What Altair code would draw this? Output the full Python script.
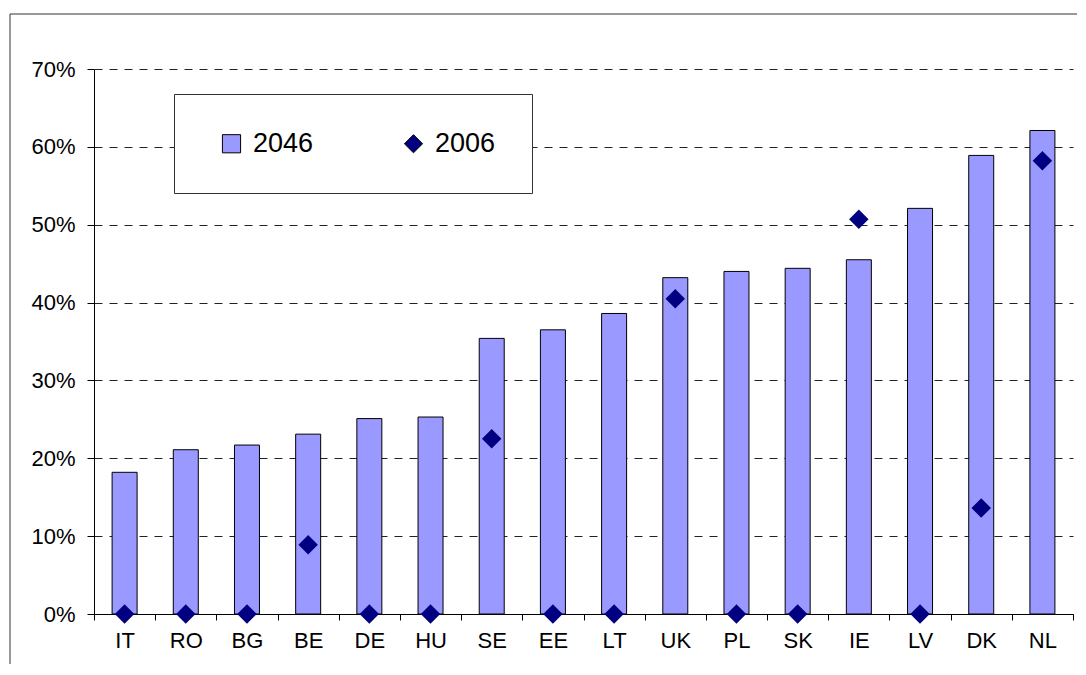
import altair as alt
import pandas as pd

countries = ["IT", "RO", "BG", "BE", "DE", "HU", "SE", "EE", "LT", "UK", "PL", "SK", "IE", "LV", "DK", "NL"]
share_2046 = [18.2, 21.1, 21.7, 23.1, 25.1, 25.3, 35.4, 36.5, 38.6, 43.2, 44.0, 44.4, 45.5, 52.1, 58.9, 62.1]
share_2006 = [0, 0, 0, 8.9, 0, 0, 22.5, 0, 0, 40.5, 0, 0, 50.7, 0, 13.6, 58.2]
series_names = ["2046", "2006"]
y_ticks = [0, 0.1, 0.2, 0.3, 0.4, 0.5, 0.6, 0.7]

rows = []
for c, a, b in zip(countries, share_2046, share_2006):
    rows.append({"country": c, "series": "2046", "value": a / 100})
    rows.append({"country": c, "series": "2006", "value": b / 100})
df = pd.DataFrame(rows)

x_enc = alt.X(
    "country:N",
    sort=countries,
    scale=alt.Scale(paddingInner=0, paddingOuter=0),
    axis=alt.Axis(
        title=None, labelAngle=0, tickBand="extent", tickSize=6,
        labelPadding=10, labelFontSize=22, labelColor="black",
        domainColor="black", tickColor="black", grid=False,
    ),
)
y_enc = alt.Y(
    "value:Q",
    scale=alt.Scale(domain=[0, 0.7], nice=False),
    axis=alt.Axis(
        title=None, values=y_ticks, format=".0%", grid=True,
        gridDash=[8, 7], gridColor="#222222", tickSize=7,
        labelPadding=12, labelFontSize=22, labelColor="black",
        domainColor="black", tickColor="black",
    ),
)
color_enc = alt.Color(
    "series:N",
    scale=alt.Scale(domain=series_names, range=["#9999FF", "#000080"]),
    legend=alt.Legend(title=None),
)
shape_enc = alt.Shape(
    "series:N",
    scale=alt.Scale(domain=series_names, range=["square", "diamond"]),
    legend=alt.Legend(title=None),
)

frame = alt.Chart(pd.DataFrame({"f": [0]})).mark_rect(
    fillOpacity=0, stroke="#333333", strokeWidth=1
).encode(
    x=alt.value(-84), x2=alt.value(1100), y=alt.value(-55), y2=alt.value(700)
)

bars = alt.Chart(df).transform_filter(alt.datum.series == "2046").mark_bar(
    size=25, stroke="black", strokeWidth=1
).encode(x=x_enc, y=y_enc, color=color_enc)

points = alt.Chart(df).transform_filter(alt.datum.series == "2006").mark_point(
    filled=True, size=380, opacity=1
).encode(x=x_enc, y=y_enc, color=color_enc, shape=shape_enc)

chart = alt.layer(frame, bars, points).properties(
    width=979,
    height=545,
    padding={"left": 86, "top": 61, "right": 4, "bottom": 50},
    autosize=alt.AutoSizeParams(type="none"),
    background="white",
).configure(
    font="Liberation Sans"
).configure_view(
    stroke="transparent"
).configure_legend(
    orient="none", legendX=80, legendY=25, direction="horizontal",
    fillColor="white", strokeColor="#333333", padding=36,
    columnPadding=78, labelFontSize=27, labelColor="black",
    symbolSize=330, symbolOffset=8, labelOffset=8,
    symbolStrokeColor="black", symbolStrokeWidth=1,
)

chart.save("out.html", embed_options={"renderer": "svg", "actions": False})
